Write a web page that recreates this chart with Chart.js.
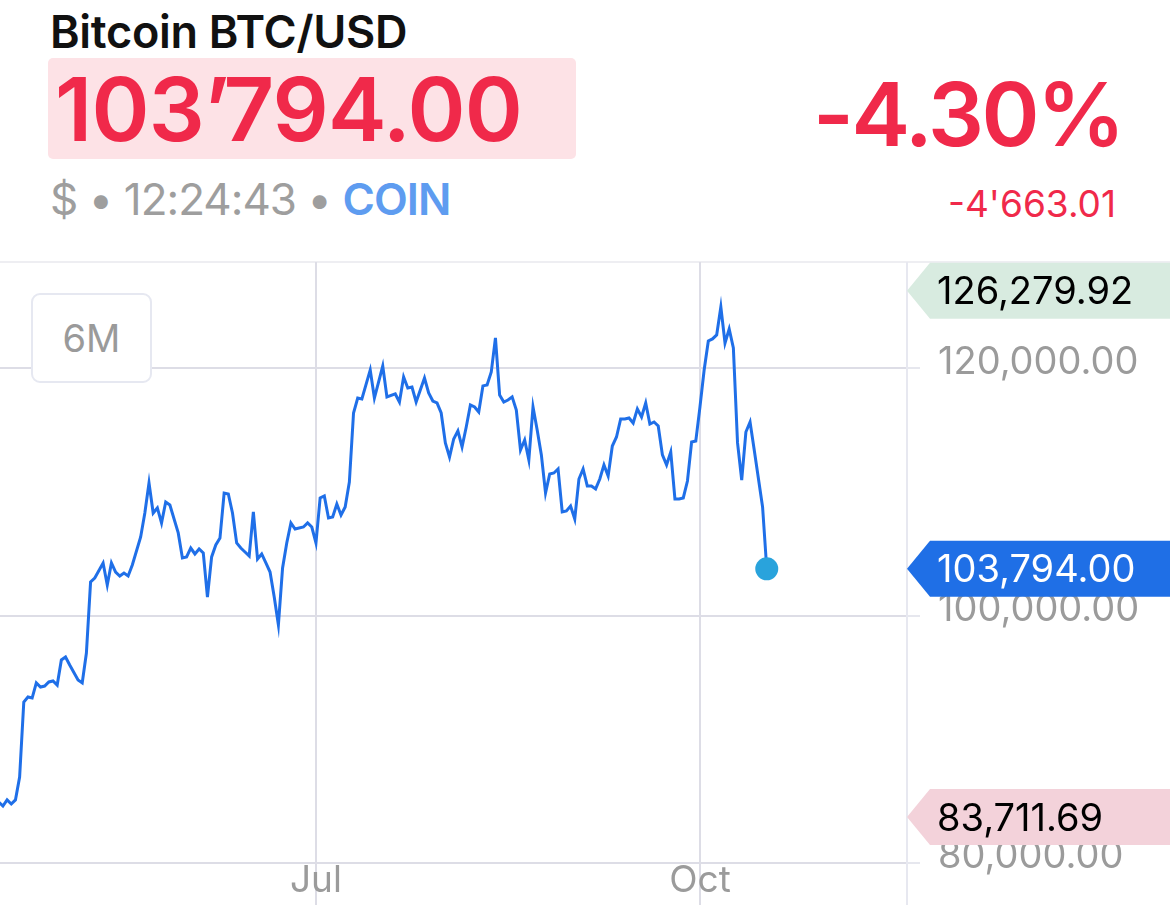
<!DOCTYPE html>
<html>
<head>
<meta charset="utf-8">
<script src="https://cdn.jsdelivr.net/npm/chart.js@4.4.1/dist/chart.umd.min.js"></script>
<style>
  html, body { margin: 0; padding: 0; background: #fff; }
  body { width: 1170px; height: 905px; position: relative; overflow: hidden; font-family: Inter, "Noto Sans", sans-serif; }
  .abs { position: absolute; line-height: 1; white-space: nowrap; }
  #title { left: 50px; top: 9px; font-size: 45px; font-weight: 600; color: #111; letter-spacing: -0.3px; }
  #pricebox { left: 48px; top: 58px; width: 528px; height: 101px; background: #fde2e6; border-radius: 5px; }
  #price { left: 55px; top: 65px; font-size: 88px; font-weight: 600; color: #f0294a; letter-spacing: -0.8px; }
  #pct { right: 47px; top: 70px; font-size: 88px; font-weight: 600; color: #f0294a; letter-spacing: -2.5px; }
  #sub { left: 50px; top: 177px; font-size: 44px; color: #9e9e9e; letter-spacing: -1px; }
  #sub b { color: #5e9cf0; font-weight: 600; }
  #chg { right: 54px; top: 185px; font-size: 37px; color: #f0294a; }
  #sep { left: 0; top: 261px; width: 1170px; height: 2px; background: #eeeef2; }
  #wrap { left: 0; top: 262px; width: 1170px; height: 643px; }
  #range { left: 31px; top: 293px; width: 117px; height: 86px; border: 2px solid #e6e8f1; border-radius: 9px; background: #fff;
           display: flex; align-items: center; justify-content: center; font-size: 38px; color: #9a9a9a; line-height: 1; }
</style>
</head>
<body>
<div class="abs" id="title">Bitcoin BTC/USD</div>
<div class="abs" id="pricebox"></div>
<div class="abs" id="price">103’794.00</div>
<div class="abs" id="pct">-4.30%</div>
<div class="abs" id="sub">$ • 12:24:43 • <b>COIN</b></div>
<div class="abs" id="chg">-4'663.01</div>
<div class="abs" id="sep"></div>
<div class="abs" id="wrap"><canvas id="chart" width="1170" height="643"></canvas></div>
<div class="abs" id="range">6M</div>
<script>
// day of year 2025 (Jan 1 = 0) and closing price
const days = [105,106,107,108,109,110,111,112,113,114,115,116,117,118,119,120,121,122,124,125,126,127,128,130,131,132,133,134,135,136,137,139,
  140,141,142,143,144,145,146,148,149,150,151,152,153,154,155,156,157,158,159,160,161,162,163,164,165,166,167,168,169,170,171,172,173,174,175,176,
  178,179,180,181,182,183,184,185,186,187,188,189,190,191,192,194,195,197,198,200,201,202,203,204,205,207,208,209,210,211,212,213,214,215,216,217,
  218,219,220,221,222,223,224,225,226,227,228,229,230,231,232,233,234,235,236,237,238,239,240,241,242,243,244,245,246,247,248,249,250,251,252,253,
  254,255,256,257,258,259,260,261,262,263,264,265,266,267,268,269,270,271,272,273,274,275,276,277,278,279,280,281,282,283,284,285,286,288,289]
const prices = [84930,84610,85100,84770,85100,86950,93020,93420,93340,94560,94230,94310,94640,94720,94390,96420,96660,96010,94800,94560,96980,102720,103050,104260,102480,104260,103530,103210,103450,103210,104100,106360,
  108300,110730,108300,108710,107500,109190,108950,106690,104670,104750,105470,104990,105390,105070,101510,104750,105720,106280,109920,109840,108300,105880,105470,105150,104830,108390,104580,104990,104260,103530,101510,99250,103860,105880,107500,107010,
  107170,107500,107170,105880,109520,109680,107900,107980,109030,108140,108790,110810,116390,117600,117520,119870,117600,120190,117690,117930,117280,119300,118410,118490,117280,119220,118010,117360,117200,116390,113970,112830,114290,114940,113640,115260,
  117040,116880,116470,118580,118660,119710,122460,117850,117280,117440,117690,116630,113400,114210,112590,116880,115020,113000,109920,111460,111540,111860,108390,108470,108870,107820,111050,111860,110490,110490,110250,111050,112190,111300,113720,114450,
  115910,115910,115990,115580,116720,116070,117200,115500,115660,115340,113000,112190,113240,109440,109440,109520,110890,114050,114130,116880,119870,122210,122380,122700,124960,122050,123180,121650,113970,110970,114850,115660,113400,108790,103794]

const tickDays = [181, 273]
const tickLabels = ['Jul', 'Oct']
const yTicks = [80000, 100000, 120000]

// high / last / low markers on the price axis
const badgeValues = [126279.92, 103794.00, 83711.69]
const badgeFill = ['#d8ebe0', '#1f6fe6', '#f3d2da']
const badgeInk = ['#000', '#fff', '#000']

const fmt = v => v.toLocaleString('en-US', {minimumFractionDigits: 2, maximumFractionDigits: 2})

// keep the plot flush with the canvas edges
const noPad = s => { s.paddingTop = 0; s.paddingBottom = 0; s.paddingLeft = 0; s.paddingRight = 0 }

const decor = {
  id: 'decor',
  afterDraw(chart) {
    const ctx = chart.ctx
    const area = chart.chartArea
    const y = chart.scales.y
    ctx.save()
    // right border runs down through the date labels
    ctx.strokeStyle = '#e7e8f0'
    ctx.lineWidth = 2
    ctx.beginPath()
    ctx.moveTo(area.right, 0)
    ctx.lineTo(area.right, chart.height)
    ctx.stroke()

    ctx.font = '38px Inter, "Noto Sans", sans-serif'
    ctx.textBaseline = 'middle'
    ctx.textAlign = 'left'
    badgeValues.forEach((v, i) => {
      const py = y.getPixelForValue(v)
      const x0 = area.right
      ctx.fillStyle = badgeFill[i]
      ctx.beginPath()
      ctx.moveTo(x0, py)
      ctx.lineTo(x0 + 23, py - 28)
      ctx.lineTo(chart.width, py - 28)
      ctx.lineTo(chart.width, py + 28)
      ctx.lineTo(x0 + 23, py + 28)
      ctx.closePath()
      ctx.fill()
      ctx.fillStyle = badgeInk[i]
      ctx.fillText(fmt(v), x0 + 30, py + 2)
    })
    ctx.restore()
  }
}

const last = prices.length - 1

new Chart(document.getElementById('chart'), {
  type: 'line',
  data: {
    datasets: [{
      data: prices.map((p, i) => ({x: days[i], y: p})),
      borderColor: '#1f6fe8',
      borderWidth: 3,
      tension: 0,
      pointRadius: ctx => ctx.dataIndex === last ? 11.5 : 0,
      pointBackgroundColor: '#29a3dc',
      pointBorderWidth: 0
    }]
  },
  options: {
    responsive: false,
    animation: false,
    devicePixelRatio: 1,
    layout: {padding: 0, autoPadding: false},
    plugins: {legend: {display: false}, tooltip: {enabled: false}},
    scales: {
      x: {
        type: 'linear',
        min: 105.3,
        max: 322.6,
        afterBuildTicks: s => { s.ticks = tickDays.map(v => ({value: v})) },
        afterFit: s => { s.height = 42; noPad(s) },
        border: {display: false},
        grid: {color: '#dddde6', lineWidth: 2, tickLength: 42},
        ticks: {
          callback: (v, i) => tickLabels[i],
          autoSkip: false,
          maxRotation: 0,
          padding: -46,
          color: '#9b9b9b',
          font: {family: 'Inter', size: 37}
        }
      },
      y: {
        position: 'right',
        min: 80000,
        max: 128600,
        afterBuildTicks: s => { s.ticks = yTicks.map(v => ({value: v})) },
        afterFit: s => { s.width = 263; noPad(s) },
        border: {display: false},
        grid: {color: '#dddde6', lineWidth: 2, tickLength: 13, tickColor: '#e6e7ee'},
        ticks: {
          callback: v => fmt(v),
          crossAlign: 'near',
          padding: 18,
          labelOffset: -6,
          color: '#9b9b9b',
          font: {family: 'Inter', size: 38}
        }
      }
    }
  },
  plugins: [decor]
})
</script>
</body>
</html>
